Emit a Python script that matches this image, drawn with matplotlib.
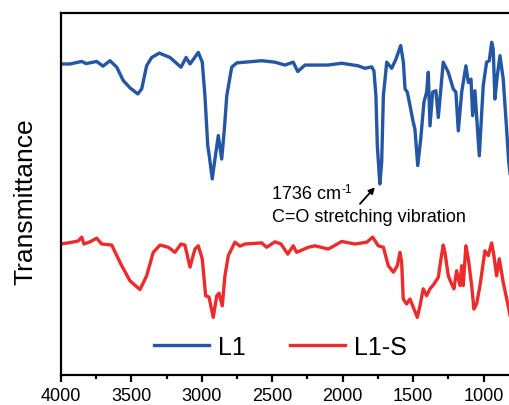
import numpy as np
import matplotlib
matplotlib.use('Agg')
import matplotlib.pyplot as plt
from matplotlib.ticker import MultipleLocator

plt.rcParams['font.family'] = ['Liberation Sans', 'DejaVu Sans']

# wavenumber (cm-1) and transmittance (a.u.)
wn_L1 = [4000, 3936, 3853, 3822, 3747, 3702, 3652, 3604, 3558, 3510, 3455, 3427,
         3392, 3356, 3302, 3226, 3148, 3112, 3084, 3025, 2997, 2978, 2958, 2949,
         2926, 2907, 2883, 2859, 2840, 2823, 2788, 2752, 2693, 2575, 2481, 2410,
         2351, 2319, 2268, 2104, 2007, 1891, 1842, 1794, 1778, 1764, 1754, 1736,
         1723, 1711, 1687, 1652, 1621, 1588, 1569, 1557, 1541, 1522, 1499, 1487,
         1467, 1446, 1423, 1404, 1392, 1380, 1361, 1338, 1321, 1286, 1250, 1215,
         1196, 1179, 1155, 1125, 1108, 1089, 1077, 1061, 1030, 1002, 978, 959,
         942, 931, 919, 902, 883, 860, 836, 821, 810]
T_L1 = [85.9, 85.9, 86.6, 86.0, 86.6, 85.3, 86.8, 85.0, 81.3, 79.3, 77.6, 79.0,
        85.4, 87.7, 88.9, 87.7, 85.0, 87.7, 85.9, 89.1, 86.4, 77.1, 63.3, 61.0,
        54.1, 59.6, 66.1, 59.6, 67.9, 77.1, 85.0, 86.2, 86.4, 86.8, 86.4, 85.6,
        86.4, 83.8, 85.6, 85.6, 86.1, 85.4, 84.7, 85.1, 84.0, 77.1, 63.3, 52.7,
        58.8, 77.1, 86.4, 84.7, 87.3, 91.0, 86.4, 79.0, 78.1, 74.4, 69.8, 67.9,
        57.8, 65.1, 75.3, 78.1, 83.6, 68.8, 78.1, 78.5, 71.1, 86.4, 83.6, 79.0,
        78.1, 67.4, 78.1, 85.4, 80.8, 81.7, 71.6, 78.5, 60.5, 79.9, 86.4, 86.8,
        91.9, 90.0, 76.2, 82.7, 88.2, 81.7, 67.9, 58.8, 55.0]

wn_L1S = [4000, 3936, 3879, 3853, 3837, 3794, 3747, 3711, 3640, 3604, 3569, 3510,
          3439, 3392, 3345, 3297, 3238, 3191, 3148, 3120, 3084, 3049, 3025, 2997,
          2973, 2949, 2919, 2894, 2878, 2855, 2836, 2812, 2765, 2729, 2694, 2575,
          2540, 2481, 2438, 2390, 2351, 2327, 2244, 2197, 2102, 2007, 1912, 1829,
          1787, 1747, 1711, 1676, 1640, 1612, 1593, 1581, 1570, 1546, 1522, 1499,
          1470, 1451, 1428, 1404, 1380, 1352, 1321, 1302, 1286, 1274, 1250, 1226,
          1210, 1191, 1167, 1155, 1144, 1125, 1108, 1084, 1068, 1049, 1025, 990,
          966, 942, 926, 907, 888, 860, 825, 810]
T_L1S = [36.1, 36.5, 36.9, 38.0, 36.1, 36.7, 37.7, 36.1, 35.8, 32.9, 30.1, 25.9,
         23.5, 27.3, 33.8, 35.8, 35.2, 33.8, 36.1, 35.8, 29.7, 34.7, 35.6, 32.0,
         21.8, 21.4, 15.8, 21.8, 22.5, 19.0, 27.3, 32.9, 36.6, 35.5, 36.1, 36.4,
         35.2, 36.7, 36.1, 33.3, 35.6, 33.8, 35.2, 35.6, 34.7, 36.8, 36.1, 36.6,
         38.0, 35.6, 35.2, 30.1, 28.3, 30.1, 33.8, 31.0, 20.9, 19.5, 20.9, 18.6,
         15.8, 19.0, 23.7, 21.8, 23.7, 25.0, 26.9, 32.0, 35.8, 33.8, 27.3, 25.0,
         23.7, 28.7, 24.6, 30.1, 24.6, 35.6, 32.0, 24.6, 18.1, 19.5, 24.6, 34.2,
         32.9, 36.4, 32.9, 27.3, 32.0, 25.5, 19.0, 16.0]

fig = plt.figure(figsize=(5.09, 4.06), dpi=100)
ax = fig.add_axes([61 / 509, 30.5 / 406, 448 / 509, 361.5 / 406])

ax.plot(wn_L1, T_L1, color='#2456A6', lw=2.4, label='L1')
ax.plot(wn_L1S, T_L1S, color='#EC2B2B', lw=2.4, label='L1-S')

ax.set_xlim(4000, 819)
ax.set_ylim(0, 100)
ax.xaxis.set_major_locator(MultipleLocator(500))
ax.xaxis.set_minor_locator(MultipleLocator(250))
ax.set_yticks([])
ax.spines['right'].set_visible(False)
for s in ['left', 'bottom', 'top']:
    ax.spines[s].set_linewidth(1.6)
ax.tick_params(axis='x', which='major', direction='out', length=5, width=1.6,
               labelsize=13, pad=4)
ax.tick_params(axis='x', which='minor', direction='out', length=3, width=1.6)
ax.tick_params(axis='x', top=False)

fig.text(25 / 509, 0.504, 'Transmittance', rotation=90, ha='center', va='center',
         fontsize=19)

# annotation for the carbonyl band
ax.annotate('', xy=(1771, 51.8), xytext=(1877, 47.2),
            arrowprops=dict(arrowstyle='-|>', color='black', lw=1.3,
                            mutation_scale=9, shrinkA=0, shrinkB=0))
t1 = ax.text(2504, 48.8, '1736 cm', fontsize=13, ha='left', va='baseline')
ax.annotate('-1', xy=(1.0, 1.0), xycoords=t1, xytext=(0.5, 1.5),
            textcoords='offset points', fontsize=8.5, ha='left', va='top')
ax.text(2504, 42.5, 'C=O stretching vibration', fontsize=13, ha='left', va='baseline')

fig.legend(loc='center', bbox_to_anchor=(280.5 / 509, 0.143), ncol=2,
           frameon=False, fontsize=18, handlelength=2.2, handletextpad=0.35,
           columnspacing=1.8)

plt.savefig('out.png', dpi=100)
